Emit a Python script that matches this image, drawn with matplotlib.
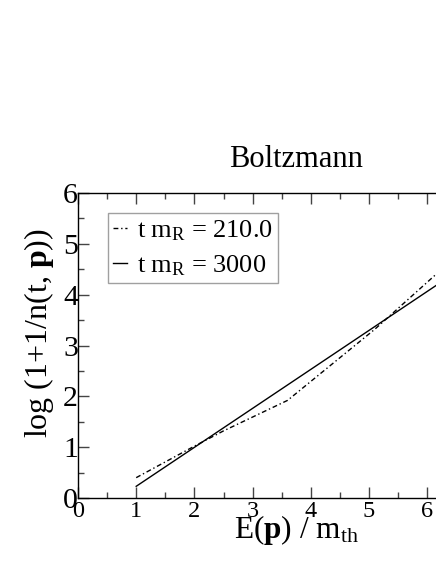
#!/usr/bin/env python3
import numpy as np
import matplotlib
matplotlib.use('Agg')
import matplotlib.pyplot as plt

# Matplotlib settings (Times-like look)
matplotlib.rcParams['font.family'] = 'serif'
matplotlib.rcParams['font.serif'] = ['Liberation Serif', 'DejaVu Serif']
matplotlib.rcParams['mathtext.fontset'] = 'custom'
matplotlib.rcParams['mathtext.rm'] = 'Liberation Serif'
matplotlib.rcParams['mathtext.it'] = 'Liberation Serif:italic'
matplotlib.rcParams['mathtext.bf'] = 'Liberation Serif:bold'

# Data
e_early = [1.0, 2.0, 2.5, 3.6, 4.2, 5.1, 6.2, 7.0]
logn_early = [0.40, 1.02, 1.32, 1.92, 2.48, 3.32, 4.45, 5.20]
e_late = [1.0, 7.0]
logn_late = [0.23, 4.83]

label_early = r't m$_\mathrm{R}$ = 210.0'
label_late = r't m$_\mathrm{R}$ = 3000'


def main():
    fig = plt.figure(figsize=(4.36, 5.64), dpi=100)
    # axes run past the right edge of the picture, as in the original crop
    ax = fig.add_axes([78/436, 66/564, 7.5*58.2/436, 305/564])

    ax.plot(e_early, logn_early, c='k', lw=1.0, linestyle=(0, (3.5, 2, 1, 2)), label=label_early)
    ax.plot(e_late, logn_late, c='k', lw=1.0, label=label_late)

    ax.set_xlim(0, 7.5)
    ax.set_ylim(0, 6)
    ax.set_xticks(np.arange(0, 8, 1))
    ax.set_xticks(np.arange(0, 7.5, 0.5), minor=True)
    ax.set_yticks(np.arange(0, 7, 1))
    ax.set_yticks(np.arange(0, 6.5, 0.5), minor=True)

    ax.tick_params(axis='both', which='major', direction='in', length=8, width=1,
                   top=True, right=True, color='#444444')
    ax.tick_params(axis='both', which='minor', direction='in', length=4, width=1,
                   top=True, right=True, color='#444444')
    ax.tick_params(axis='x', which='major', labelsize=17.5, pad=2)
    ax.tick_params(axis='y', which='major', labelsize=21.5, pad=0)
    for s in ax.spines.values():
        s.set_linewidth(1.0)

    ax.set_title('Boltzmann', fontsize=22, pad=18.5)
    ax.set_xlabel(r'E($\mathbf{p}$) / m$_\mathrm{th}$', fontsize=22.5, labelpad=-6)
    ax.set_ylabel(r'log (1+1/n(t, $\mathbf{p}$))', fontsize=23)
    ax.yaxis.set_label_coords(-0.05, 0.54)

    legend = ax.legend(loc='upper left', bbox_to_anchor=(0.069, 0.934), fontsize=19,
                       frameon=True, fancybox=False, edgecolor='#888888',
                       handlelength=0.5, handletextpad=0.4, borderpad=0.2,
                       labelspacing=0.4, borderaxespad=0)
    legend.get_frame().set_linewidth(1.0)

    fig.savefig('out.png', dpi=100)


main()
